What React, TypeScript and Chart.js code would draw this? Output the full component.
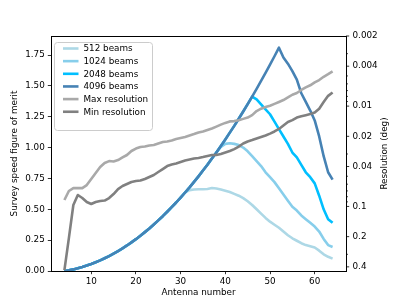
import React, { useEffect, useRef } from 'react';
import { Chart, registerables } from 'chart.js';
Chart.register(...registerables);

const antennas = [4,5,6,7,8,9,10,11,12,13,14,15,16,17,18,19,20,21,22,23,24,25,26,27,28,29,30,31,32,33,34,35,36,37,38,39,40,41,42,43,44,45,46,47,48,49,50,51,52,53,54,55,56,57,58,59,60,61,62,63,64];

const beams512 = [0.00,0.006,0.013,0.022,0.032,0.044,0.057,0.071,0.086,0.103,0.121,0.141,0.162,0.184,0.207,0.232,0.258,0.286,0.315,0.345,0.377,0.41,0.444,0.48,0.517,0.555,0.595,0.636,0.655,0.66,0.662,0.662,0.665,0.672,0.668,0.66,0.65,0.64,0.625,0.61,0.59,0.565,0.535,0.50,0.465,0.43,0.40,0.375,0.35,0.32,0.29,0.265,0.245,0.225,0.21,0.20,0.19,0.165,0.135,0.115,0.10];

const beams1024 = [0.00,0.006,0.013,0.022,0.032,0.044,0.057,0.071,0.086,0.103,0.121,0.141,0.162,0.184,0.207,0.232,0.258,0.286,0.315,0.345,0.377,0.41,0.444,0.48,0.517,0.555,0.595,0.636,0.678,0.722,0.767,0.814,0.861,0.911,0.961,1.005,1.03,1.035,1.03,1.02,1.00,0.97,0.93,0.89,0.85,0.80,0.76,0.72,0.67,0.62,0.57,0.52,0.49,0.45,0.42,0.39,0.36,0.32,0.26,0.21,0.195];

const beams2048 = [0.00,0.006,0.013,0.022,0.032,0.044,0.057,0.071,0.086,0.103,0.121,0.141,0.162,0.184,0.207,0.232,0.258,0.286,0.315,0.345,0.377,0.41,0.444,0.48,0.517,0.555,0.595,0.636,0.678,0.722,0.767,0.814,0.861,0.911,0.961,1.013,1.066,1.121,1.176,1.234,1.292,1.352,1.413,1.39,1.35,1.31,1.27,1.21,1.15,1.09,1.03,0.96,0.92,0.86,0.80,0.76,0.71,0.61,0.50,0.42,0.39];

const beams4096 = [0.00,0.006,0.013,0.022,0.032,0.044,0.057,0.071,0.086,0.103,0.121,0.141,0.162,0.184,0.207,0.232,0.258,0.286,0.315,0.345,0.377,0.41,0.444,0.48,0.517,0.555,0.595,0.636,0.678,0.722,0.767,0.814,0.861,0.911,0.961,1.013,1.066,1.121,1.176,1.234,1.292,1.352,1.413,1.476,1.54,1.605,1.672,1.74,1.809,1.73,1.68,1.62,1.55,1.44,1.37,1.30,1.22,1.09,0.93,0.80,0.74];

const maxResolution = [0.0863,0.0702,0.0656,0.0656,0.0656,0.0612,0.0533,0.0464,0.0405,0.0369,0.0353,0.0357,0.0345,0.0325,0.0307,0.0280,0.0265,0.0256,0.0253,0.0247,0.0244,0.0236,0.0228,0.0225,0.0220,0.0213,0.0208,0.0203,0.0196,0.0190,0.0183,0.0179,0.0173,0.0167,0.0160,0.0153,0.0147,0.0142,0.0141,0.0138,0.0134,0.0130,0.0123,0.0112,0.0106,0.0102,0.0099,0.0095,0.0091,0.0087,0.0082,0.0077,0.0074,0.0069,0.0065,0.0062,0.0058,0.0055,0.0051,0.0048,0.0045];

const minResolution = [0.431,0.207,0.0968,0.0769,0.0824,0.0904,0.0946,0.0904,0.0883,0.0873,0.0824,0.0752,0.0671,0.0626,0.0598,0.0571,0.0558,0.0552,0.0533,0.0509,0.0486,0.0454,0.0424,0.0396,0.0382,0.0373,0.0361,0.0349,0.0341,0.0333,0.0329,0.0322,0.0314,0.0307,0.0307,0.0300,0.0290,0.0280,0.0268,0.0253,0.0236,0.0225,0.0218,0.0210,0.0203,0.0196,0.0188,0.0179,0.0169,0.0156,0.0144,0.0138,0.0130,0.0126,0.0123,0.0120,0.0116,0.0106,0.0091,0.0079,0.0073];

const xTicks = [10, 20, 30, 40, 50, 60];
const yTicks = [0, 0.25, 0.5, 0.75, 1.0, 1.25, 1.5, 1.75];
const resMajorTicks = [0.002, 0.004, 0.01, 0.02, 0.04, 0.1, 0.2, 0.4];
const resAllTicks = [0.002,0.003,0.004,0.005,0.006,0.007,0.008,0.009,0.01,0.02,0.03,0.04,0.05,0.06,0.07,0.08,0.09,0.1,0.2,0.3,0.4];

const seriesLabels = ['512 beams', '1024 beams', '2048 beams', '4096 beams', 'Max resolution', 'Min resolution'];
const seriesColors = ['#ADD8E6', '#87CEEB', '#00BFFF', '#4682B4', '#A9A9A9', '#808080'];

const FONT = 'DejaVu Sans';
const FS = 8.8;
const LW = 2.6;

const decorPlugin = {
  id: 'decor',
  afterDraw(chart: any) {
    const { ctx, chartArea: ca } = chart;
    ctx.save();
    // top spine
    ctx.strokeStyle = '#000';
    ctx.lineWidth = 1;
    ctx.beginPath();
    ctx.moveTo(ca.left, Math.round(ca.top) + 0.5);
    ctx.lineTo(ca.right, Math.round(ca.top) + 0.5);
    ctx.stroke();
    // right axis ticks (major + minor)
    const ys = chart.scales.y1;
    ctx.lineWidth = 0.8;
    for (const v of resAllTicks) {
      const py = ys.getPixelForValue(v);
      const major = resMajorTicks.includes(v);
      ctx.beginPath();
      ctx.moveTo(ca.right, py);
      ctx.lineTo(ca.right + (major ? 3.2 : 1.9), py);
      ctx.stroke();
    }
    // axis titles
    ctx.fillStyle = '#000';
    ctx.font = `${FS}px "${FONT}"`;
    ctx.textAlign = 'center';
    ctx.textBaseline = 'middle';
    ctx.fillText('Antenna number', (ca.left + ca.right) / 2, 293);
    const cy = (ca.top + ca.bottom) / 2;
    ctx.save();
    ctx.translate(15, cy);
    ctx.rotate(-Math.PI / 2);
    ctx.fillText('Survey speed figure of merit', 0, 0);
    ctx.restore();
    ctx.save();
    ctx.translate(385, cy);
    ctx.rotate(-Math.PI / 2);
    ctx.fillText('Resolution (deg)', 0, 0);
    ctx.restore();
    // legend
    const bx = 54, by = 42, bw = 98, bh = 88;
    ctx.beginPath();
    (ctx as any).roundRect(bx + 0.5, by + 0.5, bw, bh, 3);
    ctx.fillStyle = 'rgba(255,255,255,0.8)';
    ctx.fill();
    ctx.strokeStyle = '#cccccc';
    ctx.lineWidth = 1;
    ctx.stroke();
    ctx.textAlign = 'left';
    for (let i = 0; i < seriesLabels.length; i++) {
      const ry = 48.5 + i * 12.65;
      ctx.strokeStyle = seriesColors[i];
      ctx.lineWidth = LW;
      ctx.beginPath();
      ctx.moveTo(63, ry);
      ctx.lineTo(78.5, ry);
      ctx.stroke();
      ctx.fillStyle = '#000';
      ctx.fillText(seriesLabels[i], 83.5, ry + 0.5);
    }
    ctx.restore();
  },
};

export default function App() {
  const ref = useRef<HTMLCanvasElement | null>(null);
  useEffect(() => {
    if (!ref.current) return;
    Chart.defaults.font.family = FONT;
    Chart.defaults.font.size = FS;
    Chart.defaults.color = '#000';
    const mk = (arr: number[]) => antennas.map((a, i) => ({ x: a, y: arr[i] }));
    const series = [beams512, beams1024, beams2048, beams4096, maxResolution, minResolution];
    const orders = [5, 4, 3, 2, 1, 0];
    const datasets = series.map((arr, i) => ({
      label: seriesLabels[i],
      data: mk(arr),
      borderColor: seriesColors[i],
      backgroundColor: seriesColors[i],
      borderWidth: LW,
      pointRadius: 0,
      tension: 0,
      fill: false,
      borderJoinStyle: 'round' as const,
      yAxisID: i >= 4 ? 'y1' : 'y',
      order: orders[i],
    }));
    const chart = new Chart(ref.current, {
      type: 'line',
      data: { datasets },
      plugins: [decorPlugin],
      options: {
        animation: false,
        responsive: false,
        devicePixelRatio: 1,
        layout: { padding: { top: 36, left: 0, right: 0, bottom: 0 } },
        plugins: { legend: { display: false }, tooltip: { enabled: false } },
        scales: {
          x: {
            type: 'linear',
            min: 1,
            max: 67,
            afterBuildTicks: (s: any) => { s.ticks = xTicks.map((v) => ({ value: v })); },
            afterFit: (s: any) => { s.height = 34; },
            ticks: { autoSkip: false, maxRotation: 0, padding: 2, callback: (v: any) => String(v) },
            grid: { drawOnChartArea: false, drawTicks: true, tickLength: 3.2, tickColor: '#000', tickWidth: 0.8 },
            border: { display: true, color: '#000', width: 1 },
          },
          y: {
            type: 'linear',
            position: 'left',
            min: 0,
            max: 1.904,
            afterBuildTicks: (s: any) => { s.ticks = yTicks.map((v) => ({ value: v })); },
            afterFit: (s: any) => { s.width = 51; },
            ticks: { autoSkip: false, padding: 3, callback: (v: any) => Number(v).toFixed(2) },
            grid: { drawOnChartArea: false, drawTicks: true, tickLength: 3.2, tickColor: '#000', tickWidth: 0.8 },
            border: { display: true, color: '#000', width: 1 },
          },
          y1: {
            type: 'logarithmic',
            position: 'right',
            reverse: true,
            min: 0.002,
            max: 0.44,
            afterBuildTicks: (s: any) => { s.ticks = resAllTicks.map((v) => ({ value: v })); },
            afterFit: (s: any) => { s.width = 61; },
            ticks: { autoSkip: false, padding: 6.5, callback: (v: any) => (resMajorTicks.includes(Number(v)) ? String(v) : '') },
            grid: { display: false, drawOnChartArea: false, drawTicks: false },
            border: { display: true, color: '#000', width: 1 },
          },
        },
      },
    } as any);
    return () => chart.destroy();
  }, []);
  return (
    <div style={{ position: 'absolute', left: 0, top: 0, width: 407, height: 305 }}>
      <canvas ref={ref} width={407} height={305} style={{ width: 407, height: 305, display: 'block' }} />
    </div>
  );
}
